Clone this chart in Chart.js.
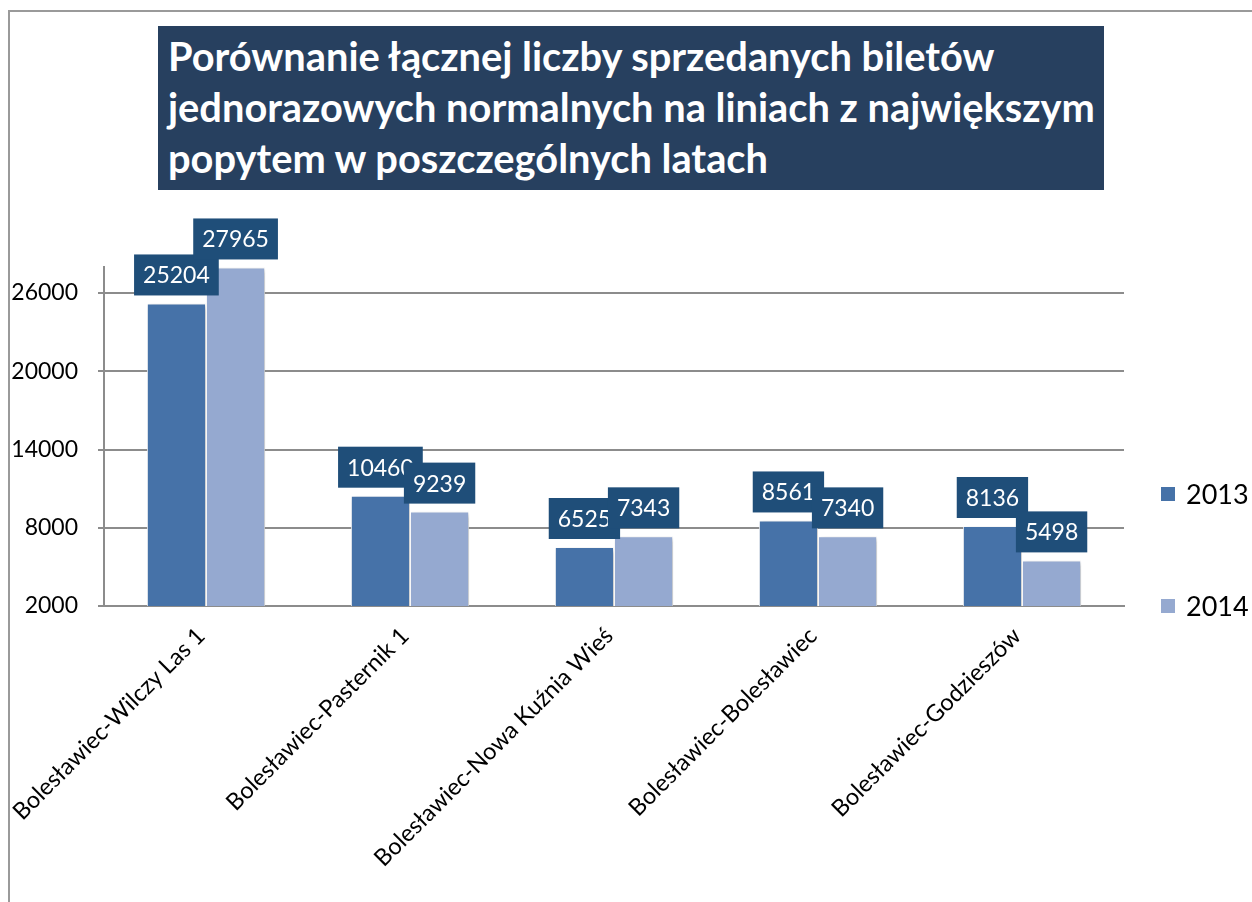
<!DOCTYPE html>
<html lang="pl">
<head>
<meta charset="utf-8">
<title>Porównanie łącznej liczby sprzedanych biletów</title>
<script src="https://cdn.jsdelivr.net/npm/chart.js@4.4.1/dist/chart.umd.min.js"></script>
<style>
  html, body { margin: 0; padding: 0; background: #fff; }
  #wrap { position: relative; width: 1252px; height: 902px; overflow: hidden; }
  #chart { position: absolute; left: 0; top: 0; }
  #title {
    position: absolute; left: 158px; top: 26px; width: 946px; height: 164px;
    box-sizing: border-box; padding: 4px 0 0 10px;
    background: #27405f; color: #fff; white-space: nowrap;
    font-family: Lato, "Open Sans", sans-serif; font-weight: bold; font-size: 39.8px; line-height: 51px;
  }
</style>
</head>
<body>
<div id="wrap">
  <canvas id="chart" width="1252" height="902"></canvas>
  <div id="title">Porównanie łącznej liczby sprzedanych biletów<br>jednorazowych normalnych na liniach z największym<br>popytem w poszczególnych latach</div>
</div>
<script>
const categories = [
    'Bolesławiec-Wilczy Las 1',
    'Bolesławiec-Pasternik 1',
    'Bolesławiec-Nowa Kuźnia Wieś',
    'Bolesławiec-Bolesławiec',
    'Bolesławiec-Godzieszów'
];
const seriesNames = ['2013', '2014'];
const values2013 = [25204, 10460, 6525, 8561, 8136];
const values2014 = [27965, 9239, 7343, 7340, 5498];
const yTicks = [2000, 8000, 14000, 20000, 26000];

const FONT = 'Lato, "Open Sans", sans-serif';
const colors = ['#4672a8', '#95a9d0'];

// grey frame round the chart
const framePlugin = {
    id: 'frame',
    beforeDraw(chart) {
        const ctx = chart.ctx;
        ctx.save();
        ctx.strokeStyle = '#9a9a9a';
        ctx.lineWidth = 2;
        ctx.beginPath();
        ctx.moveTo(9, 902);
        ctx.lineTo(9, 11);
        ctx.lineTo(1252, 11);
        ctx.stroke();
        ctx.restore();
    }
};

// soft shadow under the bars
const shadowPlugin = {
    id: 'barShadow',
    beforeDatasetDraw(chart) {
        const ctx = chart.ctx;
        ctx.save();
        ctx.shadowColor = 'rgba(0,0,0,0.28)';
        ctx.shadowBlur = 5;
        ctx.shadowOffsetX = 2;
        ctx.shadowOffsetY = 2;
    },
    afterDatasetDraw(chart) {
        chart.ctx.restore();
    }
};

// dark boxes with the values above each bar
const valueBoxPlugin = {
    id: 'valueBoxes',
    afterDatasetsDraw(chart) {
        const ctx = chart.ctx;
        ctx.save();
        ctx.font = '23px ' + FONT;
        ctx.textAlign = 'center';
        ctx.textBaseline = 'middle';
        chart.data.datasets.forEach((ds, di) => {
            chart.getDatasetMeta(di).data.forEach((bar, i) => {
                const text = String(ds.data[i]);
                const w = ctx.measureText(text).width + 18;
                const h = 41;
                const bottom = bar.y - 8;
                ctx.fillStyle = '#1f4e79';
                ctx.fillRect(bar.x - w / 2, bottom - h, w, h);
                ctx.fillStyle = '#ffffff';
                ctx.fillText(text, bar.x, bottom - h / 2 + 1);
            });
        });
        ctx.restore();
    }
};

// legend on the right side
const sideLegendPlugin = {
    id: 'sideLegend',
    afterDraw(chart) {
        const ctx = chart.ctx;
        const rows = [494, 606];
        ctx.save();
        ctx.font = '27px ' + FONT;
        ctx.textBaseline = 'middle';
        ctx.textAlign = 'left';
        chart.data.datasets.forEach((ds, di) => {
            ctx.fillStyle = ds.backgroundColor;
            ctx.fillRect(1161, rows[di] - 7, 14, 14);
            ctx.fillStyle = '#000';
            ctx.fillText(ds.label, 1186, rows[di] + 1);
        });
        ctx.restore();
    }
};

const ctx = document.getElementById('chart').getContext('2d');
new Chart(ctx, {
    type: 'bar',
    data: {
        labels: categories,
        datasets: [{
            label: seriesNames[0],
            data: values2013,
            backgroundColor: colors[0],
            borderColor: '#ffffff',
            borderWidth: 1,
            categoryPercentage: 0.58,
            barPercentage: 1.0
        }, {
            label: seriesNames[1],
            data: values2014,
            backgroundColor: colors[1],
            borderColor: '#ffffff',
            borderWidth: 1,
            categoryPercentage: 0.58,
            barPercentage: 1.0
        }]
    },
    options: {
        responsive: false,
        animation: false,
        devicePixelRatio: 1,
        layout: {
            padding: { left: 0, right: 128, top: 267, bottom: 0 }
        },
        plugins: {
            legend: { display: false },
            title: { display: false },
            tooltip: { enabled: false }
        },
        scales: {
            x: {
                grid: { display: false },
                border: { display: true, color: '#8c8c8c', width: 2 },
                ticks: {
                    color: '#000',
                    font: { family: FONT, size: 23.5 },
                    minRotation: 45,
                    maxRotation: 45,
                    autoSkip: false,
                    labelOffset: -5,
                    padding: 8
                },
                afterFit(scale) {
                    scale.height = 296;
                    scale.paddingLeft = 0;
                    scale.paddingRight = 0;
                }
            },
            y: {
                min: 2000,
                max: 28000,
                afterBuildTicks(scale) {
                    scale.ticks = yTicks.map(v => ({ value: v }));
                },
                grid: { color: '#8c8c8c', lineWidth: 2, tickLength: 6 },
                border: { display: true, color: '#8c8c8c', width: 2 },
                ticks: {
                    color: '#000',
                    font: { family: FONT, size: 23 },
                    padding: 20,
                    callback: v => String(v)
                },
                afterFit(scale) {
                    scale.width = 104;
                    scale.paddingTop = 0;
                    scale.paddingBottom = 0;
                }
            }
        }
    },
    plugins: [framePlugin, shadowPlugin, valueBoxPlugin, sideLegendPlugin]
});
</script>
</body>
</html>
